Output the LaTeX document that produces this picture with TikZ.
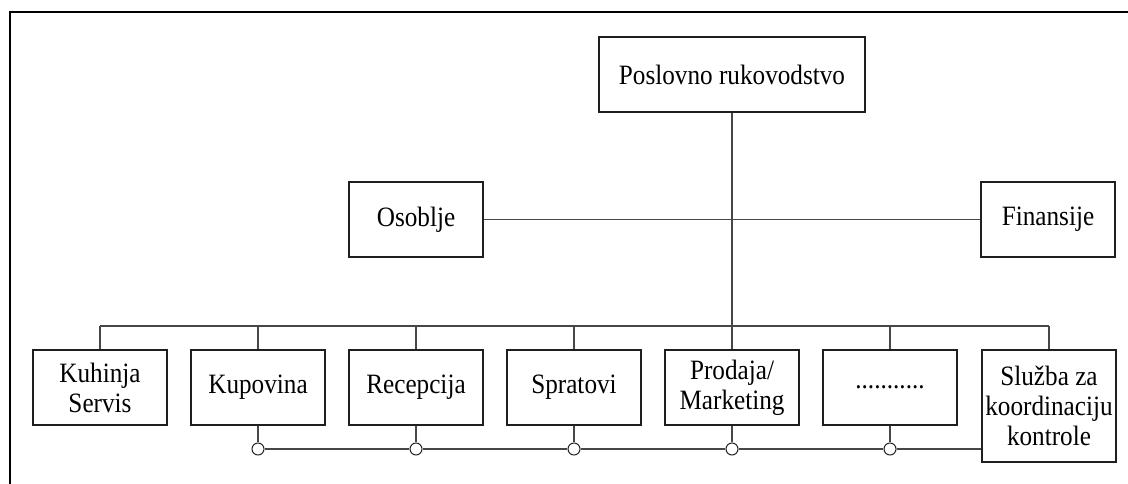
\documentclass[tikz,border=0pt]{standalone}
\usepackage{fontspec}
\setmainfont{Liberation Serif}[FakeStretch=0.9]
\begin{document}
\begin{tikzpicture}[x=0.75pt,y=-0.75pt,
  box/.style={draw=black!88,line width=1pt,fill=white,minimum width=100.5pt,
    minimum height=56.25pt,inner sep=0pt,align=center,
    font=\fontsize{21}{22.5}\selectfont},
  conn/.style={draw=black!72,line width=0.8pt},
  tap/.style={circle,draw=black!85,line width=0.8pt,fill=white,
    minimum size=9pt,inner sep=0pt},
  frame/.style={line width=1.9pt,line join=miter}]
\useasboundingbox (0,0) rectangle (1128,484);

% page frame (top and left edges)
\draw[frame] (1130,12) -- (10,12) -- (10,486);

% management and staff functions
\node[box,minimum width=199.5pt] (top) at (732,74.5) {Poslovno rukovodstvo};
\node[box] (oso) at (416,219.5) {Osoblje};
\node[box] (fin) at (1048,219.5) {Finansije};

% departments
\node[box] (kuh) at (100,387.5) {Kuhinja\\Servis};
\node[box] (kup) at (258,387.5) {Kupovina};
\node[box] (rec) at (416,387.5) {Recepcija};
\node[box] (spr) at (574,387.5) {Spratovi};
\node[box] (pro) at (732,387.5) {Prodaja/\\Marketing};
\node[box] (dot) at (890,387.5) {...........};
\node[box,minimum height=84pt] (slu) at (1049,406) {Služba za\\koordinaciju\\kontrole};

% main line and staff line
\draw[conn] (top.south) -- (pro.north);
\draw[conn] (oso.east) -- (fin.west);

% distribution bus to departments
\coordinate (bus) at (0,326);
\draw[conn] (kuh.north |- bus) -- (slu.north |- bus);
\foreach \b in {kuh,kup,rec,spr,pro,dot,slu}
  \draw[conn] (\b.north) -- (\b.north |- bus);

% control line with taps
\coordinate (low) at (0,449);
\foreach \b/\c in {kup/c2,rec/c3,spr/c4,pro/c5,dot/c6}{
  \node[tap] (\c) at (\b.south |- low) {};
  \draw[conn] (\b.south) -- (\c.north);
}
\draw[conn] (c2) -- (c3) -- (c4) -- (c5) -- (c6) -- (c6 -| slu.west);
\end{tikzpicture}
\end{document}
